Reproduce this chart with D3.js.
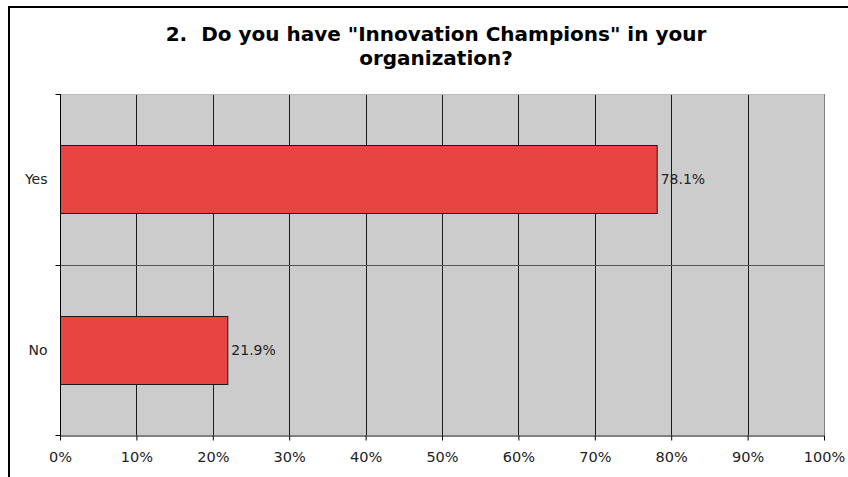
<!DOCTYPE html>
<html><head><meta charset="utf-8">
<script src="https://cdn.jsdelivr.net/npm/d3@7"></script>
<style>body{margin:0;background:#fff;}svg{display:block;}</style>
</head><body>
<script>
const categories = ["Yes", "No"];
const values = [78.1, 21.9];
const tickValues = [0,10,20,30,40,50,60,70,80,90,100];
const titleLines = ['2.  Do you have "Innovation Champions" in your', 'organization?'];

const W = 848, H = 477;
const svg = d3.select("body").append("svg").attr("width", W).attr("height", H);
const font = "Verdana, 'DejaVu Sans', sans-serif";

// outer chart border
svg.append("rect").attr("x", 9).attr("y", 7).attr("width", 900).attr("height", 600)
  .attr("fill", "#fff").attr("stroke", "#000").attr("stroke-width", 2);

const m = {left: 60, right: 824, top: 94, bottom: 435};
const x = d3.scaleLinear().domain([0, 100]).range([m.left, m.right]);
const y = d3.scaleBand().domain(categories).range([m.top, m.bottom]).padding(0);

// plot background
svg.append("rect").attr("x", m.left).attr("y", m.top).attr("width", m.right - m.left).attr("height", m.bottom - m.top)
  .attr("fill", "#cccccc");

// vertical gridlines
svg.append("g").selectAll("line").data(tickValues.slice(1, -1)).join("line")
  .attr("x1", d => Math.round(x(d)) + 0.5).attr("x2", d => Math.round(x(d)) + 0.5)
  .attr("y1", m.top).attr("y2", m.bottom).attr("stroke", "#1a1a1a").attr("stroke-width", 1);

// category separator lines
svg.append("g").selectAll("line").data(categories.slice(1)).join("line")
  .attr("x1", m.left).attr("x2", m.right)
  .attr("y1", d => Math.round(y(d)) + 0.5).attr("y2", d => Math.round(y(d)) + 0.5)
  .attr("stroke", "#555").attr("stroke-width", 1);

// plot top and right border
svg.append("line").attr("x1", m.left).attr("x2", m.right).attr("y1", m.top + 0.5).attr("y2", m.top + 0.5).attr("stroke", "#bbb");
svg.append("line").attr("x1", m.right + 0.5).attr("x2", m.right + 0.5).attr("y1", m.top).attr("y2", m.bottom).attr("stroke", "#808080");

// bars
const barFrac = 0.4;
svg.append("g").selectAll("rect").data(categories).join("rect")
  .attr("x", x(0) + 0.5)
  .attr("y", (d) => Math.round(y(d) + y.bandwidth() * (1 - barFrac) / 2) + 0.5)
  .attr("width", (d, i) => x(values[i]) - x(0))
  .attr("height", Math.round(y.bandwidth() * barFrac))
  .attr("fill", "#e84542").attr("stroke", "#1a1a1a").attr("stroke-width", 1);

// value labels
svg.append("g").selectAll("text").data(categories).join("text")
  .attr("x", (d, i) => x(values[i]) + 4)
  .attr("y", d => y(d) + y.bandwidth() / 2)
  .attr("dy", "0.35em")
  .attr("font-family", font).attr("font-size", 14).attr("fill", "#222")
  .text((d, i) => values[i].toFixed(1) + "%");

// x axis
const xAxis = svg.append("g").attr("transform", `translate(0,${m.bottom + 0.5})`)
  .call(d3.axisBottom(x).tickValues(tickValues).tickFormat(d => d + "%").tickSize(5).tickSizeOuter(0));
xAxis.select(".domain").attr("stroke", "#000");
xAxis.selectAll(".tick line").attr("stroke", "#000");
xAxis.selectAll(".tick text").attr("font-family", font).attr("font-size", 14.5).attr("fill", "#222").attr("y", 16).attr("dy", "0.71em");

// y axis line + ticks at band boundaries
const yAxisG = svg.append("g").attr("transform", `translate(${m.left + 0.5},0)`);
yAxisG.append("line").attr("y1", m.top).attr("y2", m.bottom + 1).attr("stroke", "#000");
const bounds = categories.map(d => y(d)).concat([m.bottom]);
yAxisG.selectAll("line.t").data(bounds).join("line").attr("class", "t")
  .attr("x1", -5).attr("x2", 0)
  .attr("y1", d => Math.round(d) + 0.5).attr("y2", d => Math.round(d) + 0.5).attr("stroke", "#000");
yAxisG.selectAll("text").data(categories).join("text")
  .attr("x", -13).attr("y", d => y(d) + y.bandwidth() / 2).attr("dy", "0.35em")
  .attr("text-anchor", "end").attr("font-family", font).attr("font-size", 14).attr("fill", "#222")
  .text(d => d);

// title
svg.append("g").selectAll("text").data(titleLines).join("text")
  .attr("x", 436).attr("y", (d, i) => 41 + i * 24)
  .attr("text-anchor", "middle").attr("font-family", font).attr("font-size", 20).attr("font-weight", "bold").attr("fill", "#000")
  .style("white-space", "pre")
  .text(d => d);
</script>
</body></html>
